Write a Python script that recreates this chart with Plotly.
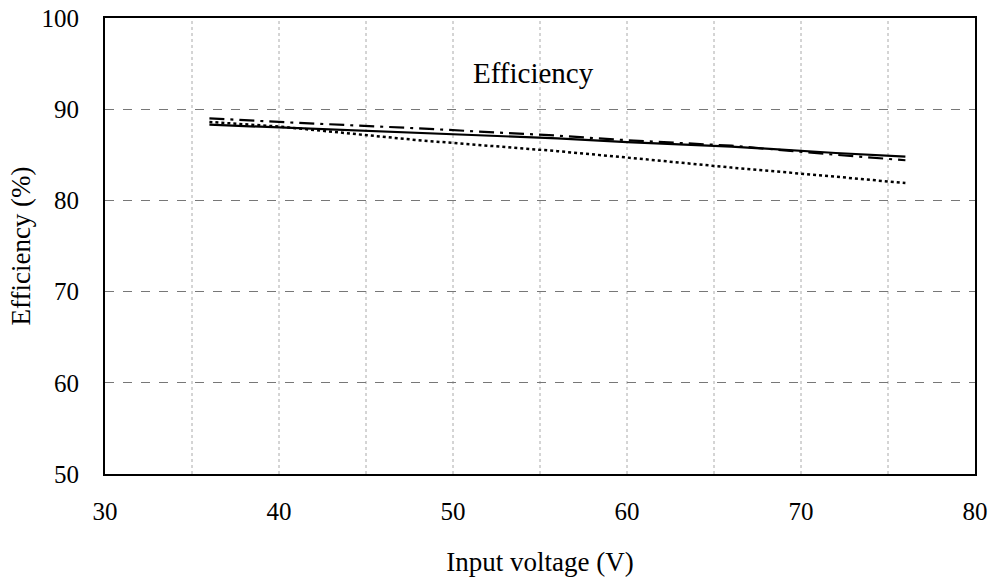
import plotly.graph_objects as go

voltage = [36, 40, 48, 56, 60, 66, 72, 76]
eff_solid = [88.3, 88.0, 87.4, 86.8, 86.4, 85.9, 85.2, 84.8]
eff_dashdot = [89.0, 88.6, 87.9, 87.1, 86.6, 86.0, 85.0, 84.4]
eff_dot = [88.6, 88.1, 86.6, 85.4, 84.7, 83.6, 82.6, 81.9]

FONT = "Liberation Serif, Times New Roman, serif"

fig = go.Figure()
fig.add_trace(go.Scatter(x=voltage, y=eff_solid, mode="lines",
                         line=dict(color="black", width=2.2, dash="solid")))
fig.add_trace(go.Scatter(x=voltage, y=eff_dashdot, mode="lines",
                         line=dict(color="black", width=2.2, dash="longdashdot")))
fig.add_trace(go.Scatter(x=voltage, y=eff_dot, mode="lines",
                         line=dict(color="black", width=2.5, dash="dot")))

fig.update_layout(
    width=990, height=583,
    margin=dict(l=105, r=15, t=18, b=109, autoexpand=False),
    paper_bgcolor="white", plot_bgcolor="white",
    showlegend=False,
    font=dict(family=FONT, size=25, color="black"),
    annotations=[dict(text="Efficiency", x=54.6, y=94, xref="x", yref="y",
                      showarrow=False, font=dict(family=FONT, size=29, color="black"))],
)
fig.update_xaxes(range=[30, 80], tickvals=[30, 40, 50, 60, 70, 80],
                 showgrid=False, zeroline=False, automargin=False,
                 showline=True, linecolor="black", linewidth=2, mirror=True,
                 ticks="", ticklabelstandoff=14,
                 tickfont=dict(family=FONT, size=25),
                 title=dict(text="Input voltage (V)", standoff=28,
                            font=dict(family=FONT, size=27)))
fig.update_yaxes(range=[50, 100], tickvals=[50, 60, 70, 80, 90, 100],
                 showgrid=True, gridcolor="#777777", griddash="dash", gridwidth=1,
                 zeroline=False, automargin=False,
                 showline=True, linecolor="black", linewidth=2, mirror=True,
                 ticks="", ticklabelstandoff=19,
                 tickfont=dict(family=FONT, size=25),
                 title=dict(text="Efficiency (%)", standoff=3,
                            font=dict(family=FONT, size=27)))

# vertical dotted gridlines every 5 V
for xv in [35, 40, 45, 50, 55, 60, 65, 70, 75]:
    fig.add_vline(x=xv, line=dict(color="#aaaaaa", width=1, dash="dot"), layer="below")

fig.write_html("out.html")
